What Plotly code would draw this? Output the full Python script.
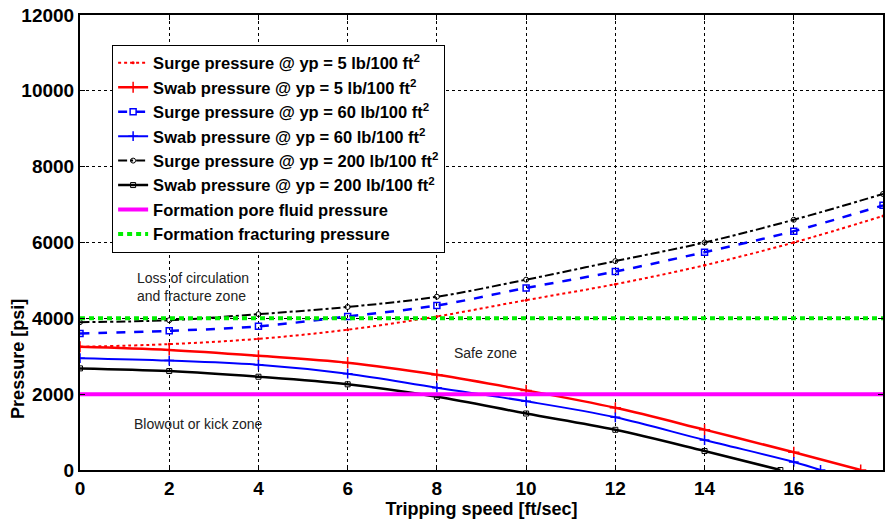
import plotly.graph_objects as go

# ---- data ----
speed = [0, 2, 4, 6, 8, 10, 12, 14, 16, 18]

surge_yp5 = [3250, 3320, 3460, 3700, 4050, 4480, 4900, 5400, 6000, 6700]
surge_yp60 = [3600, 3670, 3790, 4050, 4340, 4800, 5234, 5745, 6300, 6980]
surge_yp200 = [3900, 3950, 4110, 4300, 4570, 5020, 5510, 6000, 6600, 7280]

swab_yp5_x = [0, 2, 4, 6, 8, 10, 12, 14, 16, 17.5]
swab_yp5 = [3250, 3165, 3013, 2830, 2510, 2100, 1640, 1064, 468, 0]
swab_yp60_x = [0, 2, 4, 6, 8, 10, 12, 14, 16, 16.6]
swab_yp60 = [2950, 2886, 2776, 2540, 2170, 1813, 1390, 790, 213, 0]
swab_yp200_x = [0, 2, 4, 6, 8, 10, 12, 14, 15.7]
swab_yp200 = [2680, 2610, 2460, 2260, 1930, 1490, 1060, 500, 0]

pore_x = [0, 18]
pore_p = [2000, 2000]
frac_x = [0, 18]
frac_p = [4000, 4000]

names = [
    "Surge pressure @ yp = 5 lb/100 ft<sup>2</sup>",
    "Swab pressure @ yp = 5 lb/100 ft<sup>2</sup>",
    "Surge pressure @ yp = 60 lb/100 ft<sup>2</sup>",
    "Swab pressure @ yp = 60 lb/100 ft<sup>2</sup>",
    "Surge pressure @ yp = 200 lb/100 ft<sup>2</sup>",
    "Swab pressure @ yp = 200 lb/100 ft<sup>2</sup>",
    "Formation pore fluid pressure",
    "Formation fracturing pressure",
]

RED = "#ff0000"
BLUE = "#0000ff"
BLK = "#000000"

fig = go.Figure()
fig.add_trace(go.Scatter(x=speed, y=surge_yp5, name=names[0], mode="lines+markers",
                         line=dict(color=RED, width=2, dash="dot", shape="spline"),
                         marker=dict(symbol="circle", size=3, color=RED)))
fig.add_trace(go.Scatter(x=swab_yp5_x, y=swab_yp5, name=names[1], mode="lines+markers",
                         line=dict(color=RED, width=2.5, shape="spline"),
                         marker=dict(symbol="cross-thin", size=8, line=dict(color=RED, width=1.5))))
fig.add_trace(go.Scatter(x=speed, y=surge_yp60, name=names[2], mode="lines+markers",
                         line=dict(color=BLUE, width=2.5, dash="dash", shape="spline"),
                         marker=dict(symbol="square-open", size=6, color=BLUE, line=dict(width=1.5))))
fig.add_trace(go.Scatter(x=swab_yp60_x, y=swab_yp60, name=names[3], mode="lines+markers",
                         line=dict(color=BLUE, width=2, shape="spline"),
                         marker=dict(symbol="cross-thin", size=7, line=dict(color=BLUE, width=1.5))))
fig.add_trace(go.Scatter(x=speed, y=surge_yp200, name=names[4], mode="lines+markers",
                         line=dict(color=BLK, width=2, dash="dashdot", shape="spline"),
                         marker=dict(symbol="circle-open", size=5, color=BLK, line=dict(width=1))))
fig.add_trace(go.Scatter(x=swab_yp200_x, y=swab_yp200, name=names[5], mode="lines+markers",
                         line=dict(color=BLK, width=2.5, shape="spline"),
                         marker=dict(symbol="square-open", size=5, color=BLK, line=dict(width=1))))
fig.add_trace(go.Scatter(x=pore_x, y=pore_p, name=names[6], mode="lines",
                         line=dict(color="#ff00ff", width=4)))
fig.add_trace(go.Scatter(x=frac_x, y=frac_p, name=names[7], mode="lines",
                         line=dict(color="#00ee00", width=4, dash="5px,4px")))

TICKFONT = dict(family="Liberation Sans Narrow, Arial Narrow, Liberation Sans, Arial, sans-serif",
                size=19, color="black", weight="bold")
TITLEFONT = dict(family="Liberation Sans Narrow, Arial Narrow, Liberation Sans, Arial, sans-serif",
                 size=18, color="black", weight="bold")
ZONEFONT = dict(family="Liberation Sans, Arial, sans-serif", size=14, color="#222222")

axis_common = dict(showline=True, linecolor="black", linewidth=2, mirror="ticks",
                   ticks="inside", ticklen=5, tickcolor="black", tickwidth=1,
                   showgrid=True, gridcolor="black", gridwidth=1, griddash="3px,3px",
                   zeroline=False, tickfont=TICKFONT)

fig.update_layout(
    width=890, height=520,
    margin=dict(l=80, r=5, t=12, b=46),
    paper_bgcolor="white", plot_bgcolor="white",
    showlegend=True,
    legend=dict(x=0.04, y=0.935, xanchor="left", yanchor="top",
                bgcolor="white", bordercolor="black", borderwidth=1,
                font=dict(family="Liberation Sans, Arial, sans-serif", size=16.5,
                          color="black", weight="bold"),
                itemwidth=30, tracegroupgap=0),
    xaxis=dict(range=[0, 18], dtick=2, tick0=0, **axis_common),
    yaxis=dict(range=[0, 12000], dtick=2000, tick0=0, tickformat="d", **axis_common),
)

fig.update_xaxes(title=dict(text="Tripping speed [ft/sec]", font=TITLEFONT, standoff=4))

fig.add_annotation(xref="paper", yref="paper", x=-0.078, y=0.245, text="Pressure [psi]",
                   textangle=-90, showarrow=False, font=TITLEFONT,
                   xanchor="center", yanchor="middle")

fig.add_annotation(x=1.23, y=4818, text="Loss of circulation<br>and fracture zone",
                   showarrow=False, xanchor="left", yanchor="middle", align="left",
                   font=ZONEFONT)
fig.add_annotation(x=9.08, y=3091, text="Safe zone", showarrow=False,
                   xanchor="center", yanchor="middle", font=ZONEFONT)
fig.add_annotation(x=1.16, y=1221, text="Blowout or kick zone", showarrow=False,
                   xanchor="left", yanchor="middle", font=ZONEFONT)

fig.write_html("out.html")
